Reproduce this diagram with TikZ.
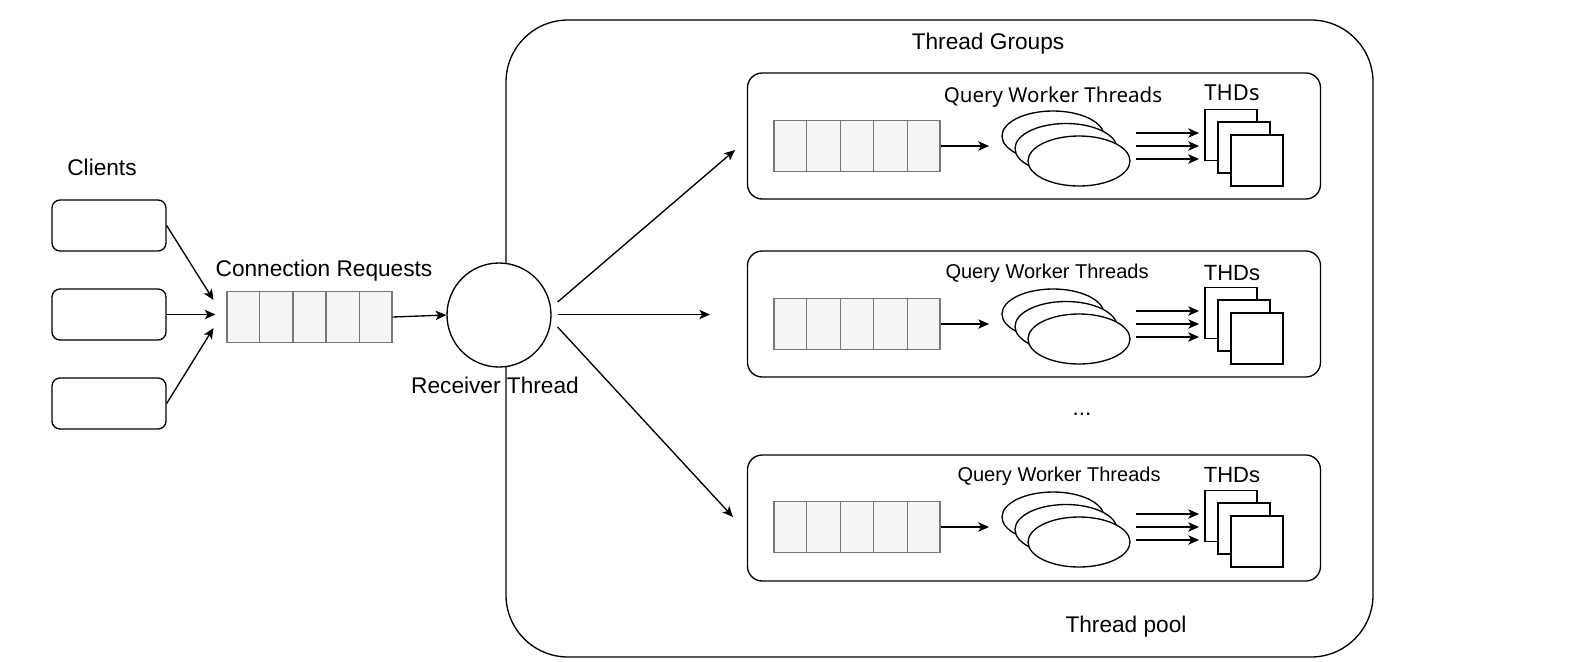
\documentclass[tikz,border=0pt]{standalone}
\usepackage{fontspec}
\setmainfont{Liberation Sans}
\newfontfamily\notofont{Noto Sans}
\usetikzlibrary{shapes.geometric,arrows.meta,calc}
\definecolor{qfill}{HTML}{F5F5F5}
\definecolor{qdraw}{HTML}{777777}
\begin{document}
\begin{tikzpicture}[x=0.75pt,y=-0.75pt, line width=1pt,
  lbl/.style={font=\fontsize{17}{20}\selectfont, inner sep=0pt},
  glbl/.style={font=\fontsize{15}{18}\selectfont, inner sep=0pt},
  client/.style={draw, rounded corners=6pt, minimum width=85.5pt, minimum height=38.25pt, inner sep=0pt},
  queuebox/.style={draw=qdraw, fill=qfill, minimum width=124.5pt, minimum height=38.25pt, inner sep=0pt},
  arr/.style={-{Stealth[length=8pt,width=7pt,inset=2pt]}},
  worker/.style={ellipse, draw, fill=white, minimum width=76.5pt, minimum height=37.5pt, inner sep=0pt},
  thd/.style={draw, fill=white, minimum width=39pt, minimum height=38.25pt, inner sep=0pt},
  group/.style={draw, rounded corners=11pt, minimum width=429.75pt, minimum height=94.5pt, inner sep=0pt},
]
\useasboundingbox (0,0) rectangle (1591,661);
\fill[white] (0,0) rectangle (1591,661);

% thread pool
\node[draw, rounded corners=46.5pt, minimum width=650.25pt, minimum height=477.75pt, inner sep=0pt] (pool) at (939.5,338.5) {};
\node[lbl] (tgl) at (988,43.5) {Thread Groups};
\node[lbl] (tpl) at (1126,627) {Thread pool};
\node[lbl] (dots) at (1082,414) {...};

% clients
\node[lbl] (cl) at (102,167) {Clients};
\node[client] (c1) at (109,225.5) {};
\node[client] (c2) at (109,314.5) {};
\node[client] (c3) at (109,403.5) {};

% connection queue
\node[lbl] (crl) at (324,271) {Connection Requests};
\node[queuebox, minimum width=123.75pt] (mq) at (309.5,317) {};
\foreach \k in {1,...,4}
  \draw[qdraw] ($(mq.north west)!\k/5!(mq.north east)$) -- ($(mq.south west)!\k/5!(mq.south east)$);

\coordinate (t1) at (213.5,300);
\coordinate (t2) at (215.5,314.5);
\coordinate (t3) at (213.5,328);
\draw[arr] (c1.east) -- (t1);
\draw[arr] (c2.east) -- (t2);
\draw[arr] (c3.east) -- (t3);

% receiver
\node[circle, draw, fill=white, minimum size=78pt, inner sep=0pt] (rc) at (499,315) {};
\node[lbl] (rcl) at (495,385) {Receiver Thread};
\draw[arr] (mq.east) -- (rc.west);

\coordinate (s1) at (557.6,302);
\coordinate (s2) at (557.6,314.5);
\coordinate (s3) at (557.6,327);
\coordinate (e1) at (735,150);
\coordinate (e2) at (710,314.5);
\coordinate (e3) at (733,517);
\draw[arr] (s1) -- (e1);
\draw[arr] (s2) -- (e2);
\draw[arr] (s3) -- (e3);

% groups
\foreach \g/\dy/\by in {1/0/136, 2/178/314, 3/381/518} {
  \node[group] (g\g) at (1034,\by) {};
  \node[queuebox] (g\g q) at (857,146+\dy) {};
  \foreach \k in {1,...,4}
    \draw[qdraw] ($(g\g q.north west)!\k/5!(g\g q.north east)$) -- ($(g\g q.south west)!\k/5!(g\g q.south east)$);
  \coordinate (g\g qa) at (989,146+\dy);
  \draw[arr] (g\g q.east) -- (g\g qa);
  \node[worker] (g\g w1) at (1053,136+\dy) {};
  \node[worker] (g\g w2) at (1066,148.5+\dy) {};
  \node[worker] (g\g w3) at (1079,161+\dy) {};
  \node[thd] (g\g h1) at (1231,135+\dy) {};
  \node[thd] (g\g h2) at (1244,147.5+\dy) {};
  \node[thd] (g\g h3) at (1257,160.5+\dy) {};
  \foreach \yy [count=\n] in {133,146,159} {
    \coordinate (g\g a\n s) at (1136,\yy+\dy);
    \coordinate (g\g a\n e) at (1199,\yy+\dy);
    \draw[arr] (g\g a\n s) -- (g\g a\n e);
  }
}

\node[font=\notofont\fontsize{15.4}{18}\selectfont, inner sep=0pt] (g1l) at (1053,97) {Query Worker Threads};
\node[font=\notofont\fontsize{16.5}{19}\selectfont, inner sep=0pt] (g1t) at (1232,93) {THDs};
\node[glbl] (g2l) at (1047,273) {Query Worker Threads};
\node[glbl, font=\fontsize{16.5}{19}\selectfont] (g2t) at (1232,273) {THDs};
\node[glbl] (g3l) at (1059,476) {Query Worker Threads};
\node[glbl, font=\fontsize{16.5}{19}\selectfont] (g3t) at (1232,475) {THDs};
\end{tikzpicture}
\end{document}
